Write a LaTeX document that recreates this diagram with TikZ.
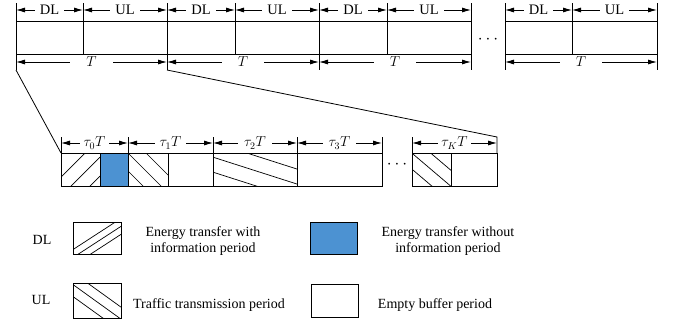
\documentclass[tikz,border=0pt]{standalone}
\usepackage{fontspec}
\setmainfont{Liberation Serif}
\usetikzlibrary{arrows.meta}
\definecolor{blueseg}{RGB}{76,146,210}
\newcommand\hatchbox[6]{\begin{scope}\clip (#1,#2) rectangle (#3,#4);
  \foreach \cc in {#6} {\draw[hatchln] ({#1},{#5*#1+\cc}) -- ({#3},{#5*#3+\cc});}\end{scope}}
\begin{document}
\begin{tikzpicture}[x=1pt,y=-1pt, line width=0.8pt,
  seg/.style={draw, minimum height=33pt, inner sep=0pt, outer sep=0pt, anchor=north west},
  hatchln/.style={line width=0.7pt},
  dim/.style={{Latex[length=9pt,width=5pt]}-{Latex[length=9pt,width=5pt]}},
  lab/.style={fill=white, inner ysep=1pt, inner xsep=5pt, font=\fontsize{14.5}{16}\selectfont},
  txt/.style={font=\fontsize{14}{16}\selectfont, align=center, inner sep=0pt},
  dotsn/.style={font=\fontsize{18}{18}\selectfont, inner sep=0pt}]
\useasboundingbox (0,0) rectangle (679,327);
% ---------- top row ----------
\node[seg, minimum width=67pt] (f1d) at (16,21) {};
\node[seg, minimum width=84pt] (f1u) at (83,21) {};
\node[seg, minimum width=68pt] (f2d) at (167,21) {};
\node[seg, minimum width=84pt] (f2u) at (235,21) {};
\node[seg, minimum width=68pt] (f3d) at (319,21) {};
\node[seg, minimum width=84pt] (f3u) at (387,21) {};
\node[seg, minimum width=67pt] (f4d) at (505,21) {};
\node[seg, minimum width=85pt] (f4u) at (572,21) {};
\node[dotsn] (dots1) at (488,40) {$\cdots$};
% top ticks
\foreach \n in {f1d,f1u,f2d,f2u,f3d,f3u,f4d,f4u}
  \draw (\n.north west) -- ++(0,-18);
\foreach \n in {f1u,f2u,f3u,f4u}
  \draw (\n.north east) -- ++(0,-18);
% bottom ticks
\foreach \n in {f1d,f2d,f3d,f4d}
  \draw (\n.south west) -- ++(0,16);
\foreach \n in {f1u,f2u,f3u,f4u}
  \draw (\n.south east) -- ++(0,16);
% DL / UL arrows
\foreach \n in {f1d,f2d,f3d,f4d}
  \draw[dim] ([yshift=11pt]\n.north west) -- ([yshift=11pt]\n.north east) node[midway,lab] {DL};
\foreach \n in {f1u,f2u,f3u,f4u}
  \draw[dim] ([yshift=11pt]\n.north west) -- ([yshift=11pt]\n.north east) node[midway,lab] {UL};
% T arrows
\foreach \a/\b in {f1d/f1u,f2d/f2u,f3d/f3u,f4d/f4u}
  \draw[dim] ([yshift=-8pt]\a.south west) -- ([yshift=-8pt]\b.south east) node[midway,lab,inner xsep=16pt] {$T$};
% ---------- second row ----------
\node[seg, minimum width=39pt] (s0a) at (61,153) {};
\node[seg, minimum width=28pt, fill=blueseg] (s0b) at (100,153) {};
\node[seg, minimum width=40pt] (s1a) at (128,153) {};
\node[seg, minimum width=45pt] (s1b) at (168,153) {};
\node[seg, minimum width=84pt] (s2) at (213,153) {};
\node[seg, minimum width=85pt] (s3) at (297,153) {};
\node[seg, minimum width=39pt] (ska) at (412,153) {};
\node[seg, minimum width=46pt] (skb) at (451,153) {};
\node[dotsn] (dots2) at (397,165) {$\cdots$};
\hatchbox{61}{153}{100}{186}{-1}{238,257,276}
\hatchbox{128}{153}{168}{186}{1}{7,25,43}
\hatchbox{213}{153}{297}{186}{0.32}{74,89,104}
\hatchbox{412}{153}{451}{186}{0.85}{-213,-197,-181}
% ticks row 2
\foreach \n in {s0a,s1a,s2,s3,ska}
  \draw (\n.north west) -- ++(0,-16);
\draw (s3.north east) -- ++(0,-16);
% tau arrows
\draw[dim] ([yshift=10pt]s0a.north west) -- ([yshift=10pt]s0b.north east) node[midway,lab,inner xsep=4pt] {$\tau_0T$};
\draw[dim] ([yshift=10pt]s1a.north west) -- ([yshift=10pt]s1b.north east) node[midway,lab,inner xsep=5pt] {$\tau_1T$};
\draw[dim] ([yshift=10pt]s2.north west) -- ([yshift=10pt]s2.north east) node[midway,lab,inner xsep=6pt] {$\tau_2T$};
\draw[dim] ([yshift=10pt]s3.north west) -- ([yshift=10pt]s3.north east) node[midway,lab,inner xsep=6pt] {$\tau_3T$};
\draw[dim] ([yshift=10pt]ska.north west) -- ([yshift=10pt]skb.north east) node[midway,lab,inner xsep=3pt] {$\tau_K T$};
% zoom lines
\coordinate (c1) at ([yshift=-16pt]f1d.south west);
\coordinate (c2) at ([yshift=-16pt]f2d.south west);
\coordinate (c3) at ([yshift=16pt]skb.north east);
\draw (c1) -- (s0a.north west);
\draw (c2) -- (c3) -- (skb.north east);
% ---------- legend ----------
\node[txt] (ldl) at (42,240) {DL};
\node[txt] (lul) at (41,300) {UL};
\node[seg, minimum width=48pt, minimum height=32pt] (la) at (73,222) {};
\hatchbox{73}{222}{121}{254}{-0.65}{297,305,313}
\node[seg, minimum width=47pt, minimum height=32pt, fill=blueseg] (lb) at (310,222) {};
\node[seg, minimum width=48pt, minimum height=35pt] (lc) at (73,283) {};
\hatchbox{73}{283}{121}{318}{0.72}{220,232,244}
\node[seg, minimum width=47pt, minimum height=33pt] (ld) at (311,284) {};
\node[txt] (ta) at (203,241) {Energy transfer with\\information period};
\node[txt] (tb) at (448,241) {Energy transfer without\\information period};
\node[txt] (tc) at (209,305) {Traffic transmission period};
\node[txt] (td) at (435,305) {Empty buffer period};
\end{tikzpicture}
\end{document}
